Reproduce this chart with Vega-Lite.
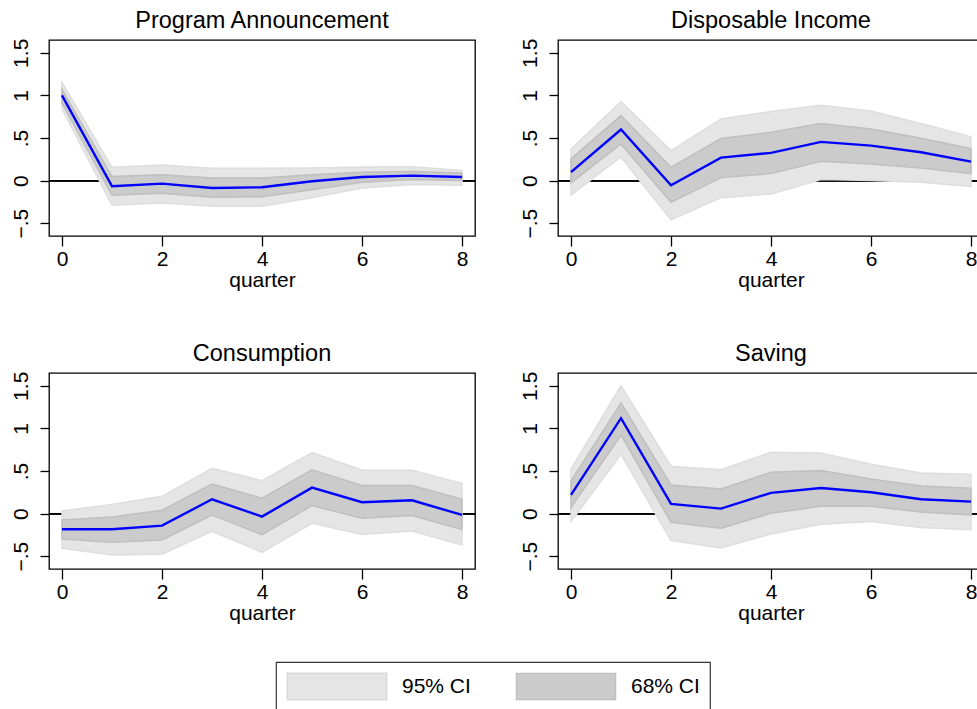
{
  "$schema": "https://vega.github.io/schema/vega-lite/v6.json",
  "padding": {"left": 9, "top": 8, "right": 0, "bottom": 0},
  "background": "white",
  "data": {"values": [
    {"panel": "PA", "q": 0, "irf": 1.0, "lo95": 0.84, "hi95": 1.15, "lo68": 0.91, "hi68": 1.07},
    {"panel": "PA", "q": 1, "irf": -0.067, "lo95": -0.29, "hi95": 0.156, "lo68": -0.172, "hi68": 0.047},
    {"panel": "PA", "q": 2, "irf": -0.035, "lo95": -0.262, "hi95": 0.184, "lo68": -0.149, "hi68": 0.07},
    {"panel": "PA", "q": 3, "irf": -0.086, "lo95": -0.3, "hi95": 0.145, "lo68": -0.196, "hi68": 0.03},
    {"panel": "PA", "q": 4, "irf": -0.078, "lo95": -0.3, "hi95": 0.145, "lo68": -0.188, "hi68": 0.03},
    {"panel": "PA", "q": 5, "irf": -0.008, "lo95": -0.2, "hi95": 0.149, "lo68": -0.106, "hi68": 0.07},
    {"panel": "PA", "q": 6, "irf": 0.043, "lo95": -0.086, "hi95": 0.16, "lo68": -0.02, "hi68": 0.098},
    {"panel": "PA", "q": 7, "irf": 0.059, "lo95": -0.047, "hi95": 0.164, "lo68": 0.012, "hi68": 0.106},
    {"panel": "PA", "q": 8, "irf": 0.043, "lo95": -0.055, "hi95": 0.12, "lo68": 0.0, "hi68": 0.09},
    {"panel": "DI", "q": 0, "irf": 0.1, "lo95": -0.17, "hi95": 0.37, "lo68": -0.027, "hi68": 0.254},
    {"panel": "DI", "q": 1, "irf": 0.6, "lo95": 0.278, "hi95": 0.927, "lo68": 0.43, "hi68": 0.763},
    {"panel": "DI", "q": 2, "irf": -0.055, "lo95": -0.46, "hi95": 0.352, "lo68": -0.254, "hi68": 0.156},
    {"panel": "DI", "q": 3, "irf": 0.27, "lo95": -0.2, "hi95": 0.724, "lo68": 0.035, "hi68": 0.493},
    {"panel": "DI", "q": 4, "irf": 0.325, "lo95": -0.156, "hi95": 0.81, "lo68": 0.082, "hi68": 0.567},
    {"panel": "DI", "q": 5, "irf": 0.454, "lo95": 0.012, "hi95": 0.884, "lo68": 0.227, "hi68": 0.669},
    {"panel": "DI", "q": 6, "irf": 0.41, "lo95": 0.0, "hi95": 0.818, "lo68": 0.196, "hi68": 0.606},
    {"panel": "DI", "q": 7, "irf": 0.333, "lo95": -0.02, "hi95": 0.669, "lo68": 0.149, "hi68": 0.497},
    {"panel": "DI", "q": 8, "irf": 0.223, "lo95": -0.067, "hi95": 0.513, "lo68": 0.082, "hi68": 0.376},
    {"panel": "C", "q": 0, "irf": -0.184, "lo95": -0.407, "hi95": 0.031, "lo68": -0.297, "hi68": -0.074},
    {"panel": "C", "q": 1, "irf": -0.184, "lo95": -0.485, "hi95": 0.106, "lo68": -0.336, "hi68": -0.039},
    {"panel": "C", "q": 2, "irf": -0.141, "lo95": -0.477, "hi95": 0.203, "lo68": -0.309, "hi68": 0.039},
    {"panel": "C", "q": 3, "irf": 0.168, "lo95": -0.207, "hi95": 0.532, "lo68": -0.016, "hi68": 0.348},
    {"panel": "C", "q": 4, "irf": -0.035, "lo95": -0.454, "hi95": 0.387, "lo68": -0.246, "hi68": 0.18},
    {"panel": "C", "q": 5, "irf": 0.305, "lo95": -0.113, "hi95": 0.716, "lo68": 0.094, "hi68": 0.513},
    {"panel": "C", "q": 6, "irf": 0.133, "lo95": -0.246, "hi95": 0.513, "lo68": -0.055, "hi68": 0.329},
    {"panel": "C", "q": 7, "irf": 0.156, "lo95": -0.203, "hi95": 0.509, "lo68": -0.023, "hi68": 0.329},
    {"panel": "C", "q": 8, "irf": -0.016, "lo95": -0.368, "hi95": 0.356, "lo68": -0.188, "hi68": 0.172},
    {"panel": "S", "q": 0, "irf": 0.219, "lo95": -0.094, "hi95": 0.524, "lo68": 0.07, "hi68": 0.383},
    {"panel": "S", "q": 1, "irf": 1.12, "lo95": 0.696, "hi95": 1.5, "lo68": 0.923, "hi68": 1.3},
    {"panel": "S", "q": 2, "irf": 0.113, "lo95": -0.317, "hi95": 0.556, "lo68": -0.102, "hi68": 0.336},
    {"panel": "S", "q": 3, "irf": 0.059, "lo95": -0.403, "hi95": 0.516, "lo68": -0.172, "hi68": 0.29},
    {"panel": "S", "q": 4, "irf": 0.243, "lo95": -0.239, "hi95": 0.72, "lo68": 0.004, "hi68": 0.485},
    {"panel": "S", "q": 5, "irf": 0.3, "lo95": -0.125, "hi95": 0.712, "lo68": 0.086, "hi68": 0.505},
    {"panel": "S", "q": 6, "irf": 0.25, "lo95": -0.094, "hi95": 0.579, "lo68": 0.086, "hi68": 0.407},
    {"panel": "S", "q": 7, "irf": 0.168, "lo95": -0.164, "hi95": 0.477, "lo68": 0.02, "hi68": 0.325},
    {"panel": "S", "q": 8, "irf": 0.141, "lo95": -0.188, "hi95": 0.462, "lo68": -0.016, "hi68": 0.297}
  ]},
  "columns": 2,
  "spacing": {"row": 49, "column": 41},
  "concat": [
    {
      "title": "Program Announcement",
      "width": 426, "height": 196,
      "transform": [{"filter": "datum.panel === 'PA'"}],
      "layer": [
        {"mark": {"type": "rule", "color": "black", "strokeWidth": 1.3},
         "encoding": {"y": {"datum": 0, "type": "quantitative", "scale": {"domain": [-0.65, 1.65], "nice": false, "zero": false},
           "axis": {"title": null, "values": [-0.5, 0, 0.5, 1, 1.5], "labelExpr": "datum.value === 1.5 ? '1.5' : datum.value === 1 ? '1' : datum.value === 0.5 ? '.5' : datum.value === 0 ? '0' : '\u2212.5'"}}}},
        {"mark": {"type": "area", "stroke": "#dedede", "strokeWidth": 1.5},
         "encoding": {
           "x": {"field": "q", "type": "quantitative", "scale": {"domain": [-0.26, 8.26], "nice": false, "zero": false}, "axis": {"title": "quarter", "values": [0, 2, 4, 6, 8]}},
           "y": {"field": "lo95", "type": "quantitative", "axis": {"title": null, "values": [-0.5, 0, 0.5, 1, 1.5], "labelExpr": "datum.value === 1.5 ? '1.5' : datum.value === 1 ? '1' : datum.value === 0.5 ? '.5' : datum.value === 0 ? '0' : '\u2212.5'"}},
           "y2": {"field": "hi95"},
           "fill": {"datum": "95% CI", "type": "nominal", "scale": {"domain": ["95% CI", "68% CI"], "range": ["#e5e5e5", "#cbcbcb"]}}}},
        {"mark": {"type": "area", "stroke": "#bfbfbf", "strokeWidth": 1.5},
         "encoding": {
           "x": {"field": "q", "type": "quantitative", "axis": {"title": "quarter", "values": [0, 2, 4, 6, 8]}},
           "y": {"field": "lo68", "type": "quantitative", "axis": {"title": null, "values": [-0.5, 0, 0.5, 1, 1.5], "labelExpr": "datum.value === 1.5 ? '1.5' : datum.value === 1 ? '1' : datum.value === 0.5 ? '.5' : datum.value === 0 ? '0' : '\u2212.5'"}},
           "y2": {"field": "hi68"},
           "fill": {"datum": "68% CI", "type": "nominal"}}},
        {"mark": {"type": "line", "color": "#0000ff", "strokeWidth": 2.4},
         "encoding": {
           "x": {"field": "q", "type": "quantitative", "axis": {"title": "quarter", "values": [0, 2, 4, 6, 8]}},
           "y": {"field": "irf", "type": "quantitative", "axis": {"title": null, "values": [-0.5, 0, 0.5, 1, 1.5], "labelExpr": "datum.value === 1.5 ? '1.5' : datum.value === 1 ? '1' : datum.value === 0.5 ? '.5' : datum.value === 0 ? '0' : '\u2212.5'"}}}}
      ]
    },
    {
      "title": "Disposable Income",
      "width": 426, "height": 196,
      "transform": [{"filter": "datum.panel === 'DI'"}],
      "layer": [
        {"mark": {"type": "rule", "color": "black", "strokeWidth": 1.3},
         "encoding": {"y": {"datum": 0, "type": "quantitative", "scale": {"domain": [-0.65, 1.65], "nice": false, "zero": false},
           "axis": {"title": null, "values": [-0.5, 0, 0.5, 1, 1.5], "labelExpr": "datum.value === 1.5 ? '1.5' : datum.value === 1 ? '1' : datum.value === 0.5 ? '.5' : datum.value === 0 ? '0' : '\u2212.5'"}}}},
        {"mark": {"type": "area", "stroke": "#dedede", "strokeWidth": 1.5},
         "encoding": {
           "x": {"field": "q", "type": "quantitative", "scale": {"domain": [-0.26, 8.26], "nice": false, "zero": false}, "axis": {"title": "quarter", "values": [0, 2, 4, 6, 8]}},
           "y": {"field": "lo95", "type": "quantitative", "axis": {"title": null, "values": [-0.5, 0, 0.5, 1, 1.5], "labelExpr": "datum.value === 1.5 ? '1.5' : datum.value === 1 ? '1' : datum.value === 0.5 ? '.5' : datum.value === 0 ? '0' : '\u2212.5'"}},
           "y2": {"field": "hi95"},
           "fill": {"datum": "95% CI", "type": "nominal", "scale": {"domain": ["95% CI", "68% CI"], "range": ["#e5e5e5", "#cbcbcb"]}}}},
        {"mark": {"type": "area", "stroke": "#bfbfbf", "strokeWidth": 1.5},
         "encoding": {
           "x": {"field": "q", "type": "quantitative", "axis": {"title": "quarter", "values": [0, 2, 4, 6, 8]}},
           "y": {"field": "lo68", "type": "quantitative", "axis": {"title": null, "values": [-0.5, 0, 0.5, 1, 1.5], "labelExpr": "datum.value === 1.5 ? '1.5' : datum.value === 1 ? '1' : datum.value === 0.5 ? '.5' : datum.value === 0 ? '0' : '\u2212.5'"}},
           "y2": {"field": "hi68"},
           "fill": {"datum": "68% CI", "type": "nominal"}}},
        {"mark": {"type": "line", "color": "#0000ff", "strokeWidth": 2.4},
         "encoding": {
           "x": {"field": "q", "type": "quantitative", "axis": {"title": "quarter", "values": [0, 2, 4, 6, 8]}},
           "y": {"field": "irf", "type": "quantitative", "axis": {"title": null, "values": [-0.5, 0, 0.5, 1, 1.5], "labelExpr": "datum.value === 1.5 ? '1.5' : datum.value === 1 ? '1' : datum.value === 0.5 ? '.5' : datum.value === 0 ? '0' : '\u2212.5'"}}}}
      ]
    },
    {
      "title": "Consumption",
      "width": 426, "height": 196,
      "transform": [{"filter": "datum.panel === 'C'"}],
      "layer": [
        {"mark": {"type": "rule", "color": "black", "strokeWidth": 1.3},
         "encoding": {"y": {"datum": 0, "type": "quantitative", "scale": {"domain": [-0.65, 1.65], "nice": false, "zero": false},
           "axis": {"title": null, "values": [-0.5, 0, 0.5, 1, 1.5], "labelExpr": "datum.value === 1.5 ? '1.5' : datum.value === 1 ? '1' : datum.value === 0.5 ? '.5' : datum.value === 0 ? '0' : '\u2212.5'"}}}},
        {"mark": {"type": "area", "stroke": "#dedede", "strokeWidth": 1.5},
         "encoding": {
           "x": {"field": "q", "type": "quantitative", "scale": {"domain": [-0.26, 8.26], "nice": false, "zero": false}, "axis": {"title": "quarter", "values": [0, 2, 4, 6, 8]}},
           "y": {"field": "lo95", "type": "quantitative", "axis": {"title": null, "values": [-0.5, 0, 0.5, 1, 1.5], "labelExpr": "datum.value === 1.5 ? '1.5' : datum.value === 1 ? '1' : datum.value === 0.5 ? '.5' : datum.value === 0 ? '0' : '\u2212.5'"}},
           "y2": {"field": "hi95"},
           "fill": {"datum": "95% CI", "type": "nominal", "scale": {"domain": ["95% CI", "68% CI"], "range": ["#e5e5e5", "#cbcbcb"]}}}},
        {"mark": {"type": "area", "stroke": "#bfbfbf", "strokeWidth": 1.5},
         "encoding": {
           "x": {"field": "q", "type": "quantitative", "axis": {"title": "quarter", "values": [0, 2, 4, 6, 8]}},
           "y": {"field": "lo68", "type": "quantitative", "axis": {"title": null, "values": [-0.5, 0, 0.5, 1, 1.5], "labelExpr": "datum.value === 1.5 ? '1.5' : datum.value === 1 ? '1' : datum.value === 0.5 ? '.5' : datum.value === 0 ? '0' : '\u2212.5'"}},
           "y2": {"field": "hi68"},
           "fill": {"datum": "68% CI", "type": "nominal"}}},
        {"mark": {"type": "line", "color": "#0000ff", "strokeWidth": 2.4},
         "encoding": {
           "x": {"field": "q", "type": "quantitative", "axis": {"title": "quarter", "values": [0, 2, 4, 6, 8]}},
           "y": {"field": "irf", "type": "quantitative", "axis": {"title": null, "values": [-0.5, 0, 0.5, 1, 1.5], "labelExpr": "datum.value === 1.5 ? '1.5' : datum.value === 1 ? '1' : datum.value === 0.5 ? '.5' : datum.value === 0 ? '0' : '\u2212.5'"}}}}
      ]
    },
    {
      "title": "Saving",
      "width": 426, "height": 196,
      "transform": [{"filter": "datum.panel === 'S'"}],
      "layer": [
        {"mark": {"type": "rule", "color": "black", "strokeWidth": 1.3},
         "encoding": {"y": {"datum": 0, "type": "quantitative", "scale": {"domain": [-0.65, 1.65], "nice": false, "zero": false},
           "axis": {"title": null, "values": [-0.5, 0, 0.5, 1, 1.5], "labelExpr": "datum.value === 1.5 ? '1.5' : datum.value === 1 ? '1' : datum.value === 0.5 ? '.5' : datum.value === 0 ? '0' : '\u2212.5'"}}}},
        {"mark": {"type": "area", "stroke": "#dedede", "strokeWidth": 1.5},
         "encoding": {
           "x": {"field": "q", "type": "quantitative", "scale": {"domain": [-0.26, 8.26], "nice": false, "zero": false}, "axis": {"title": "quarter", "values": [0, 2, 4, 6, 8]}},
           "y": {"field": "lo95", "type": "quantitative", "axis": {"title": null, "values": [-0.5, 0, 0.5, 1, 1.5], "labelExpr": "datum.value === 1.5 ? '1.5' : datum.value === 1 ? '1' : datum.value === 0.5 ? '.5' : datum.value === 0 ? '0' : '\u2212.5'"}},
           "y2": {"field": "hi95"},
           "fill": {"datum": "95% CI", "type": "nominal", "scale": {"domain": ["95% CI", "68% CI"], "range": ["#e5e5e5", "#cbcbcb"]}}}},
        {"mark": {"type": "area", "stroke": "#bfbfbf", "strokeWidth": 1.5},
         "encoding": {
           "x": {"field": "q", "type": "quantitative", "axis": {"title": "quarter", "values": [0, 2, 4, 6, 8]}},
           "y": {"field": "lo68", "type": "quantitative", "axis": {"title": null, "values": [-0.5, 0, 0.5, 1, 1.5], "labelExpr": "datum.value === 1.5 ? '1.5' : datum.value === 1 ? '1' : datum.value === 0.5 ? '.5' : datum.value === 0 ? '0' : '\u2212.5'"}},
           "y2": {"field": "hi68"},
           "fill": {"datum": "68% CI", "type": "nominal"}}},
        {"mark": {"type": "line", "color": "#0000ff", "strokeWidth": 2.4},
         "encoding": {
           "x": {"field": "q", "type": "quantitative", "axis": {"title": "quarter", "values": [0, 2, 4, 6, 8]}},
           "y": {"field": "irf", "type": "quantitative", "axis": {"title": null, "values": [-0.5, 0, 0.5, 1, 1.5], "labelExpr": "datum.value === 1.5 ? '1.5' : datum.value === 1 ? '1' : datum.value === 0.5 ? '.5' : datum.value === 0 ? '0' : '\u2212.5'"}}}}
      ]
    }
  ],
  "config": {
    "font": "Liberation Sans",
    "view": {"stroke": "black", "strokeWidth": 1.3},
    "title": {"fontSize": 23.5, "fontWeight": "normal", "color": "black", "frame": "group", "anchor": "middle", "baseline": "alphabetic", "offset": 6},
    "axis": {"domain": false, "grid": false, "tickColor": "black", "tickWidth": 1.3, "labelColor": "black", "labelFontSize": 21, "titleFontSize": 21, "titleFontWeight": "normal", "titleColor": "black", "labelFont": "Liberation Sans", "titleFont": "Liberation Sans"},
    "axisX": {"tickSize": 10, "labelPadding": 2.5, "titlePadding": 0, "labelFlush": false, "labelOverlap": false},
    "axisY": {"tickSize": 9, "labelAngle": -90, "labelAlign": "center", "labelBaseline": "alphabetic", "labelPadding": 12.5, "labelFlush": false, "labelOverlap": false},
    "legend": {
      "orient": "none", "legendX": 227, "legendY": 622,
      "direction": "horizontal", "title": null,
      "symbolType": "M-1,-1H6.407V1H-1Z", "symbolSize": 729,
      "symbolStrokeColor": "rgba(0,0,0,0.06)", "symbolStrokeWidth": 2,
      "labelOffset": 87, "columnPadding": 41,
      "labelFontSize": 21, "labelFont": "Liberation Sans", "labelColor": "black",
      "padding": 10, "strokeColor": "#333333", "strokeWidth": 1.2, "fillColor": "white"
    }
  }
}
